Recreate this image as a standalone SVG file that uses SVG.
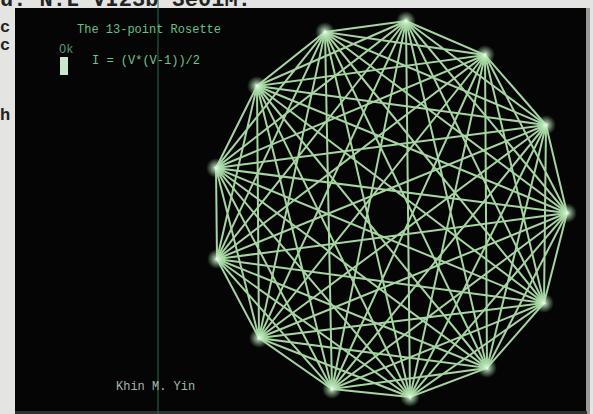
<svg xmlns="http://www.w3.org/2000/svg" width="593" height="414" viewBox="0 0 593 414">
<style>
.paper{font-family:"Liberation Mono","DejaVu Sans Mono",monospace;font-weight:bold;fill:#222}
.scr{font-family:"Liberation Mono","DejaVu Sans Mono",monospace;font-size:12px}
.star{fill:none;stroke:#a6d4a2;stroke-width:2;stroke-linejoin:miter}
.glow{fill:url(#g)}
</style>
<defs>
<radialGradient id="g">
<stop offset="0" stop-color="#f0fff0" stop-opacity="0.95"/>
<stop offset="0.5" stop-color="#b8e6b8" stop-opacity="0.5"/>
<stop offset="1" stop-color="#90d090" stop-opacity="0"/>
</radialGradient>
</defs>
<rect width="593" height="414" fill="#e4e4e2"/>
<text class="paper" x="0" y="6" font-size="22">u: N:L VI23b 3e01M:"</text>
<text class="paper" x="0" y="32" font-size="17">c</text>
<text class="paper" x="0" y="50" font-size="17">c</text>
<text class="paper" x="0" y="120" font-size="17">h</text>
<rect x="15" y="8" width="572" height="406" fill="#050505"/>
<rect x="586" y="8" width="4" height="406" fill="#9a9a98"/>
<rect x="15" y="411" width="572" height="3" fill="#27352f"/>
<line x1="158" y1="0" x2="158" y2="414" stroke="#2a6a4c" stroke-width="1"/>
<g id="texts">
<text class="scr" x="77" y="33" fill="#66c088">The 13-point Rosette</text>
<text class="scr" x="59" y="53" fill="#4f9a76" font-size="11">Ok</text>
<rect x="60" y="57" width="8" height="18" fill="#c8e8cc"/>
<text class="scr" x="92" y="64" fill="#74c290">I = (V*(V-1))/2</text>
<text class="scr" x="116" y="390" fill="#a0b8aa">Khin M. Yin</text>
</g>
<g id="connectors">
<polygon class="star" points="406,21 485,55 546,125 567,213 544,303 487,368 410,397 332,389 259,338 217,259 216,168 257,86 325,32"/>
<polygon class="star" points="406,21 546,125 544,303 410,397 259,338 216,168 325,32 485,55 567,213 487,368 332,389 217,259 257,86"/>
<polygon class="star" points="406,21 567,213 410,397 217,259 325,32 546,125 487,368 259,338 257,86 485,55 544,303 332,389 216,168"/>
<polygon class="star" points="406,21 544,303 259,338 325,32 567,213 332,389 257,86 546,125 410,397 216,168 485,55 487,368 217,259"/>
<polygon class="star" points="406,21 487,368 216,168 546,125 332,389 325,32 544,303 217,259 485,55 410,397 257,86 567,213 259,338"/>
<polygon class="star" points="406,21 410,397 325,32 487,368 257,86 544,303 216,168 567,213 217,259 546,125 259,338 485,55 332,389"/>
</g>
<g id="p0"><circle class="glow" cx="406" cy="21" r="10"/></g>
<g id="p1"><circle class="glow" cx="485" cy="55" r="10"/></g>
<g id="p2"><circle class="glow" cx="546" cy="125" r="10"/></g>
<g id="p3"><circle class="glow" cx="567" cy="213" r="10"/></g>
<g id="p4"><circle class="glow" cx="544" cy="303" r="10"/></g>
<g id="p5"><circle class="glow" cx="487" cy="368" r="10"/></g>
<g id="p6"><circle class="glow" cx="410" cy="397" r="10"/></g>
<g id="p7"><circle class="glow" cx="332" cy="389" r="10"/></g>
<g id="p8"><circle class="glow" cx="259" cy="338" r="10"/></g>
<g id="p9"><circle class="glow" cx="217" cy="259" r="10"/></g>
<g id="p10"><circle class="glow" cx="216" cy="168" r="10"/></g>
<g id="p11"><circle class="glow" cx="257" cy="86" r="10"/></g>
<g id="p12"><circle class="glow" cx="325" cy="32" r="10"/></g>
</svg>
